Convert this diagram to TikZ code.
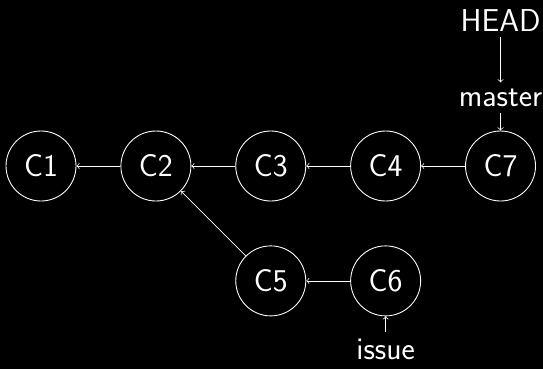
\documentclass[tikz,border=0pt]{standalone}
\usetikzlibrary{positioning}

\begin{document}
\begin{tikzpicture}[
    font=\sffamily\fontsize{18}{22}\selectfont,
    every node/.style={color=white},
    commit/.style={draw=white, circle, minimum size=1.4cm, inner sep=0pt, line width=0.5pt},
    pointer/.style={draw=white, line width=0.4pt, ->, >=to},
    node distance=0.88cm
    ]
    % background
    \fill[black] (0,0) rectangle (10.86,7.38);
    \useasboundingbox (0,0) rectangle (10.86,7.38);

    % commits
    \node[commit] (c1) at (0.82,4.06) {C1};
    \node[commit] (c2) [right=of c1] {C2};
    \node[commit] (c3) [right=of c2] {C3};
    \node[commit] (c4) [right=of c3] {C4};
    \node[commit] (c7) [right=of c4] {C7};
    \node[commit] (c5) [below=of c3] {C5};
    \node[commit] (c6) [right=of c5] {C6};

    % refs
    \node (master) [above=0.36cm of c7] {master};
    \node (head) [above=0.9cm of master] {HEAD};
    \node (issue) [below=0.32cm of c6] {issue};

    % parents
    \draw[pointer] (c2) -- (c1);
    \draw[pointer] (c3) -- (c2);
    \draw[pointer] (c4) -- (c3);
    \draw[pointer] (c7) -- (c4);
    \draw[pointer] (c5) -- (c2);
    \draw[pointer] (c6) -- (c5);

    % pointers
    \draw[pointer] (head) -- (master);
    \draw[pointer] (master) -- (c7);
    \draw[pointer] (issue) -- (c6);
\end{tikzpicture}
\end{document}
